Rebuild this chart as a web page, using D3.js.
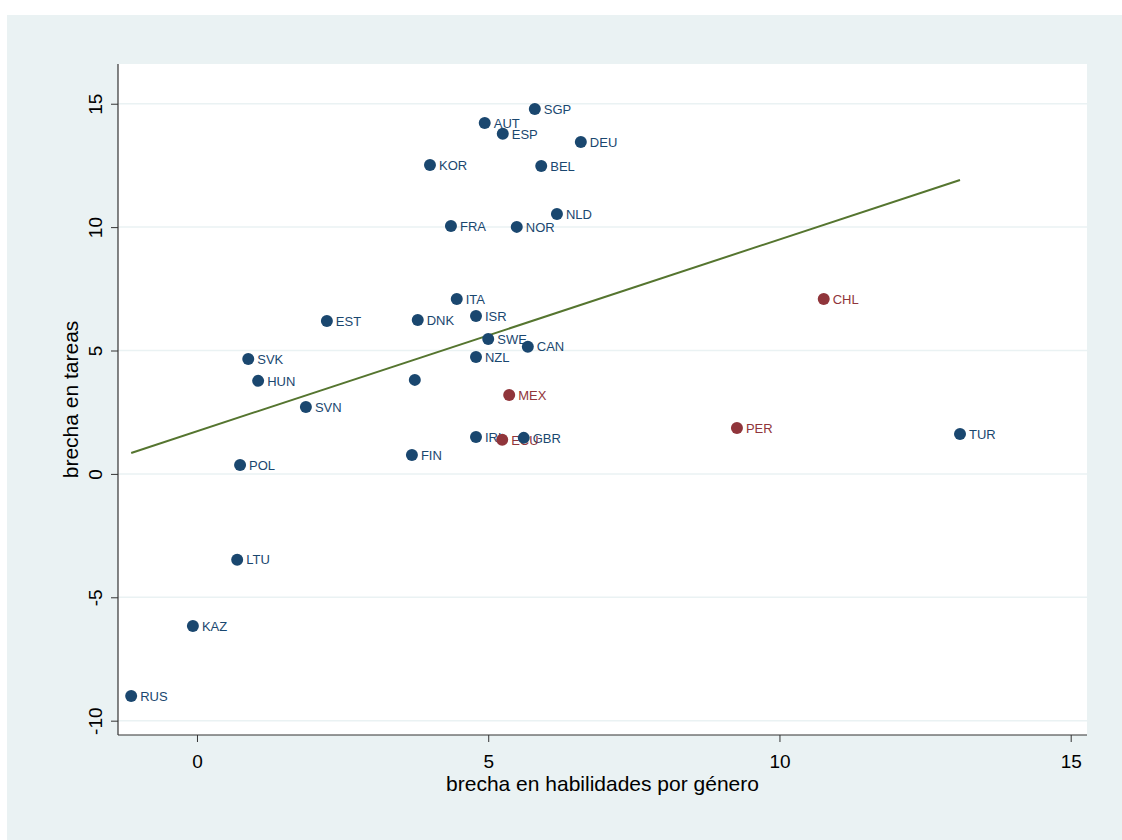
<!DOCTYPE html>
<html>
<head>
<meta charset="utf-8">
<script src="https://cdn.jsdelivr.net/npm/d3@7"></script>
<style>
  html, body { margin: 0; padding: 0; background: #ffffff; }
  svg { display: block; font-family: "Liberation Sans", Arial, sans-serif; }
</style>
</head>
<body>
<svg id="chart" width="1122" height="840"></svg>
<script>
// Country codes, skill gap (x) and task gap (y)
const countries = ["SGP","AUT","ESP","DEU","KOR","BEL","NLD","FRA","NOR","ITA","EST","DNK","ISR","SWE","CAN","SVK","NZL","","HUN","SVN","TUR","IRL","GBR","FIN","POL","LTU","KAZ","RUS"];
const skillGap   = [5.80, 4.94, 5.25, 6.59, 4.00, 5.91, 6.18, 4.36, 5.49, 4.46, 2.23, 3.79, 4.79, 5.00, 5.68, 0.88, 4.79, 3.74, 1.05, 1.87, 13.10, 4.79, 5.61, 3.69, 0.74, 0.69, -0.07, -1.13];
const taskGap    = [14.79, 14.22, 13.78, 13.45, 12.52, 12.48, 10.53, 10.05, 10.01, 7.09, 6.20, 6.24, 6.40, 5.47, 5.15, 4.66, 4.74, 3.81, 3.77, 2.71, 1.62, 1.50, 1.46, 0.77, 0.36, -3.48, -6.16, -9.00];

// Latin American countries, drawn as a second series
const latamCountries = ["CHL","MEX","PER","ECU"];
const latamSkillGap  = [10.76, 5.36, 9.27, 5.24];
const latamTaskGap   = [7.09, 3.20, 1.86, 1.38];

// Linear fit endpoints (x, y)
const fitX = [-1.13, 13.10];
const fitY = [0.85, 11.91];

const xTicks = [0, 5, 10, 15];
const yTicks = [-10, -5, 0, 5, 10, 15];

const xTitle = "brecha en habilidades por género";
const yTitle = "brecha en tareas";

const svg = d3.select("#chart");
const W = 1122, H = 840;
const plot = { left: 118, right: 1087, top: 64, bottom: 735 };

const navy = "#1a476f";
const maroon = "#90353b";
const green = "#55752f";
const bg = "#eaf2f3";

// Graph region background
svg.append("rect").attr("x", 7).attr("y", 15).attr("width", W - 7).attr("height", H - 15).attr("fill", bg);
// Plot region
svg.append("rect").attr("x", plot.left).attr("y", plot.top)
  .attr("width", plot.right - plot.left).attr("height", plot.bottom - plot.top).attr("fill", "#ffffff");

const x = d3.scaleLinear().domain([-1.356, 15.28]).range([plot.left, plot.right]);
const y = d3.scaleLinear().domain([-10.58, 16.61]).range([plot.bottom, plot.top]);

// Horizontal grid lines
svg.append("g").selectAll("line").data(yTicks).join("line")
  .attr("x1", plot.left).attr("x2", plot.right)
  .attr("y1", d => y(d)).attr("y2", d => y(d))
  .attr("stroke", bg).attr("stroke-width", 1.5);

// Axes (plain hyphen for negative numbers)
const fmt = d => String(d);
const yAxis = svg.append("g").attr("transform", `translate(${plot.left},0)`)
  .call(d3.axisLeft(y).tickValues(yTicks).tickSize(7).tickPadding(0).tickFormat(fmt));
const xAxis = svg.append("g").attr("transform", `translate(0,${plot.bottom})`)
  .call(d3.axisBottom(x).tickValues(xTicks).tickSize(7).tickPadding(6).tickFormat(fmt));

[xAxis, yAxis].forEach(a => {
  a.select(".domain").remove();
  a.selectAll(".tick line").attr("stroke", "#333").attr("stroke-width", 1);
  a.selectAll(".tick text").attr("fill", "#000").style("font-size", "19px")
    .style("font-family", "'Liberation Sans', Arial, sans-serif");
});
xAxis.selectAll(".tick text").attr("y", 33).attr("dy", null);
yAxis.selectAll(".tick text")
  .attr("x", null)
  .attr("text-anchor", "middle")
  .attr("transform", "translate(-23,0) rotate(-90)")
  .attr("dy", "0.35em");

svg.append("line").attr("x1", plot.left).attr("x2", plot.left)
  .attr("y1", plot.top).attr("y2", plot.bottom).attr("stroke", "#333").attr("stroke-width", 1.2);
svg.append("line").attr("x1", plot.left).attr("x2", plot.right)
  .attr("y1", plot.bottom).attr("y2", plot.bottom).attr("stroke", "#333").attr("stroke-width", 1.2);

// Axis titles
svg.append("text").attr("x", (plot.left + plot.right) / 2).attr("y", 791)
  .attr("text-anchor", "middle").style("font-size", "21px").attr("fill", "#000").text(xTitle);
svg.append("text").attr("transform", `translate(78,${(plot.top + plot.bottom) / 2}) rotate(-90)`)
  .attr("text-anchor", "middle").style("font-size", "21px").attr("fill", "#000").text(yTitle);

// Fit line
svg.append("line")
  .attr("x1", x(fitX[0])).attr("y1", y(fitY[0]))
  .attr("x2", x(fitX[1])).attr("y2", y(fitY[1]))
  .attr("stroke", green).attr("stroke-width", 2);

const main = countries.map((c, i) => ({ c, x: skillGap[i], y: taskGap[i], col: navy }));
const latam = latamCountries.map((c, i) => ({ c, x: latamSkillGap[i], y: latamTaskGap[i], col: maroon }));
const all = main.concat(latam);

// Marker labels, then markers on top
svg.append("g").selectAll("text").data(all).join("text")
  .attr("x", d => x(d.x) + 9).attr("y", d => y(d.y))
  .attr("dy", "0.36em").style("font-size", "13px").attr("fill", d => d.col)
  .text(d => d.c);

svg.append("g").selectAll("circle").data(all).join("circle")
  .attr("cx", d => x(d.x)).attr("cy", d => y(d.y)).attr("r", 6)
  .attr("fill", d => d.col);
</script>
</body>
</html>
